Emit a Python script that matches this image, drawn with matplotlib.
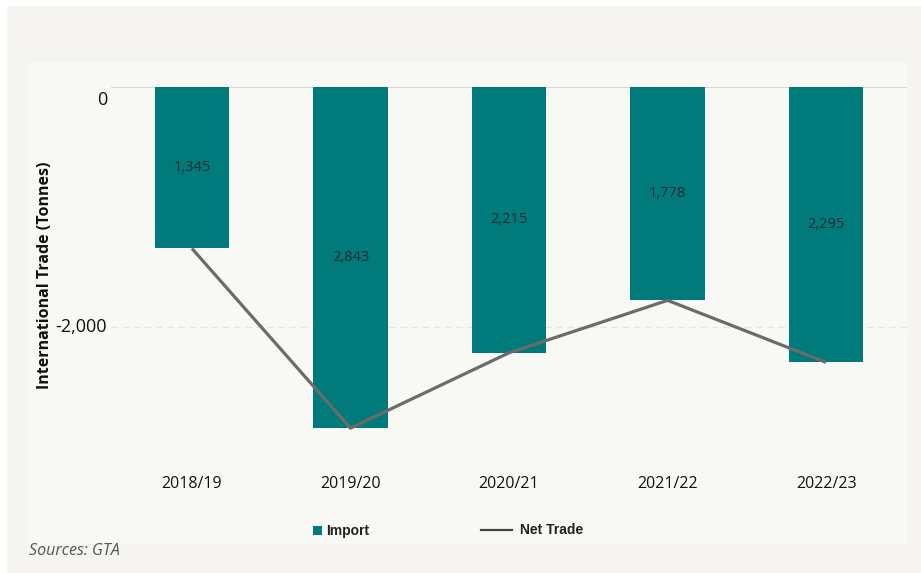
import matplotlib
matplotlib.use("Agg")
import matplotlib.pyplot as plt
from matplotlib.patches import Rectangle
from matplotlib.lines import Line2D
from matplotlib.transforms import ScaledTranslation

years = ["2018/19", "2019/20", "2020/21", "2021/22", "2022/23"]
imports = [-1345, -2843, -2215, -1778, -2295]
net_trade = [-1345, -2843, -2215, -1778, -2295]
yticks = [0, -2000]
ytick_labels = ["0", "-2,000"]

W, H = 921, 573
fig = plt.figure(figsize=(W / 100, H / 100), dpi=100)
fig.patch.set_facecolor("white")

def fx(px):
    return px / W

def fy(py):
    return 1 - py / H

# Outer and inner panels
fig.add_artist(Rectangle((fx(7), 0), 1 - fx(7), fy(6), transform=fig.transFigure,
                         facecolor="#f5f4f0", edgecolor="none", zorder=-10))
fig.add_artist(Rectangle((fx(28), fy(544)), fx(907 - 28), (544 - 62) / H, transform=fig.transFigure,
                         facecolor="#f8f8f5", edgecolor="none", zorder=-9))

ax = fig.add_axes([fx(111), fy(459), fx(907 - 111), (459 - 87) / H])
ax.set_facecolor("none")

teal = "#007a7a"
x = list(range(len(years)))
ax.bar(x, imports, width=0.47, color=teal, zorder=2)
ax.plot(x, net_trade, color="#6b6b6b", lw=2.3, zorder=3, solid_capstyle="butt")

for xi, v in zip(x, imports):
    ax.text(xi, v / 2, f"{abs(v):,}", ha="center", va="center", fontsize=10.5,
            color="#1e2b2b", family="Open Sans", zorder=4)

ax.set_xlim(-0.51, 4.51)
ax.set_ylim(-3100, 0)
ax.axhline(0, color="#d0d0cc", lw=1.2, zorder=1)
ax.axhline(-2000, color="#e4e4e0", lw=1, ls=(0, (5, 3)), zorder=1)

ax.set_xticks(x)
ax.set_xticklabels(years, fontsize=11.5, family="Open Sans", color="#111111")
ax.set_yticks(yticks)
ax.set_yticklabels([])
ax.tick_params(axis="both", length=0)
ax.tick_params(axis="x", pad=12)
ytrans = ax.get_yaxis_transform()
for t, lab in zip(yticks, ytick_labels):
    off = ScaledTranslation(-4 / 100, (-13 if t == 0 else 0) / 100, fig.dpi_scale_trans)
    ax.text(0, t, lab, transform=ytrans + off, ha="right", va="center",
            fontsize=13, family="Open Sans", color="#111111")
for s in ax.spines.values():
    s.set_visible(False)

fig.text(fx(45), fy(275), "International Trade (Tonnes)", rotation=90, ha="center", va="center",
         fontsize=11.5, fontweight="bold", family="Open Sans", color="#111111")

# Legend
fig.add_artist(Rectangle((fx(313), fy(535)), fx(9), 9 / H, transform=fig.transFigure,
                         facecolor=teal, edgecolor="none"))
fig.text(fx(326), fy(531), "Import", ha="left", va="center", fontsize=10,
         fontweight="bold", family="Liberation Sans", color="#222222")
fig.add_artist(Line2D([fx(481), fx(512)], [fy(530), fy(530)], transform=fig.transFigure,
                      color="#444444", lw=1.6))
fig.text(fx(520), fy(530), "Net Trade", ha="left", va="center", fontsize=10,
         fontweight="bold", family="Liberation Sans", color="#222222")

fig.text(fx(29), fy(551), "Sources: GTA", ha="left", va="center", fontsize=11.5,
         style="italic", family="Open Sans", color="#555555")

fig.savefig("out.png", dpi=100, facecolor=fig.get_facecolor())
